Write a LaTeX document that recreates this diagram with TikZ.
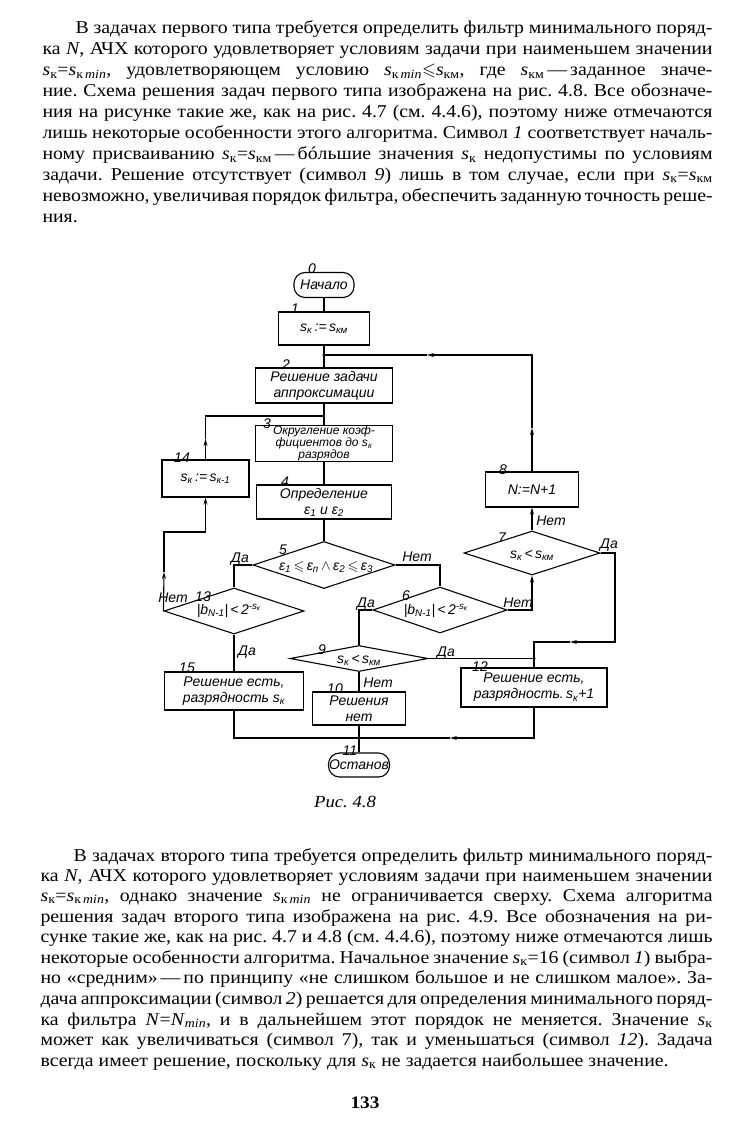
\documentclass[tikz,border=0pt]{standalone}
\usepackage{fontspec}
\usepackage{amsmath,amssymb}
\setmainfont[FakeStretch=1.1]{Liberation Serif}
\newfontfamily\gost{Liberation Sans}
\usetikzlibrary{arrows.meta,shapes.geometric}
\newcommand{\Sk}{\textit{s}\textsubscript{к}}
\newcommand{\Skmin}{\textit{s}\textsubscript{к\,\textit{min}}}
\newcommand{\Skm}{\textit{s}\textsubscript{км}}
\newcommand{\fsub}[1]{s\textsubscript{#1}}
\frenchspacing
\begin{document}
\begin{tikzpicture}[x=1pt,y=-1pt,line width=1.1pt]
\tikzset{
  body/.style={anchor=base west, inner sep=0pt, font=\fontsize{18}{21}\selectfont},
  fc/.style={font=\gost\itshape\fontsize{14}{16}\selectfont},
  blk/.style={draw, rectangle, inner sep=0pt, align=center, fc},
  term/.style={draw, rectangle, rounded corners=11pt, inner sep=0pt, fc},
  dia/.style={draw, diamond, inner sep=0pt},
  num/.style={fc, inner sep=0pt, anchor=base},
  yn/.style={fc, inner sep=0pt, anchor=base},
  endtip/.style={-{Stealth[length=7pt,width=4pt]}},
  dot/.style={fill=black}
}
\fill[white] (0,0) rectangle (730,1134);
\useasboundingbox (0,0) rectangle (730,1134);

% ---------- first paragraph ----------
\node[body] (p1) at (75,34) {\makebox[637pt][s]{В задачах первого типа требуется определить фильтр минимального поряд-}};
\node[body] (p2) at (42,55) {\makebox[670pt][s]{ка \textit{N}, АЧХ которого удовлетворяет условиям задачи при наименьшем значении}};
\node[body] (p3) at (42,76) {\makebox[670pt][s]{\Sk=\Skmin, удовлетворяющем условию \Skmin$\leqslant$\Skm, где \Skm\,—\,заданное значе-}};
\node[body] (p4) at (42,97) {\makebox[670pt][s]{ние. Схема решения задач первого типа изображена на рис. 4.8. Все обозначе-}};
\node[body] (p5) at (42,117.5) {\makebox[670pt][s]{ния на рисунке такие же, как на рис. 4.7 (см. 4.4.6), поэтому ниже отмечаются}};
\node[body] (p6) at (42,138.5) {\makebox[670pt][s]{лишь некоторые особенности этого алгоритма. Символ \textit{1} соответствует началь-}};
\node[body] (p7) at (42,159.5) {\makebox[670pt][s]{ному присваиванию \Sk=\Skm\,—\,бóльшие значения \Sk\ недопустимы по условиям}};
\node[body] (p8) at (42,180) {\makebox[670pt][s]{задачи. Решение отсутствует (символ \textit{9}) лишь в том случае, если при \Sk=\Skm}};
\node[body] (p9) at (42,201) {\makebox[670pt][s]{невозможно, увеличивая порядок фильтра, обеспечить заданную точность реше-}};
\node[body] (p10) at (42,222) {ния.};

% ---------- flowchart ----------
\node[term, minimum width=60pt, minimum height=25pt] (n0) at (324,285) {Начало};
\node[blk, minimum width=91pt, minimum height=33pt] (n1) at (324,328.5) {\fsub{к}\,:=\,\fsub{км}};
\node[blk, minimum width=137pt, minimum height=35pt] (n2) at (324,385.5) {Решение задачи\\аппроксимации};
\node[blk, minimum width=137pt, minimum height=33pt, font=\gost\itshape\fontsize{12}{11}\selectfont] (n3) at (324,443.5) {Округление коэф-\\фициентов до \fsub{к}\\разрядов};
\node[blk, minimum width=135pt, minimum height=34pt] (n4) at (324,502) {Определение\\ε\textsubscript{1} и ε\textsubscript{2}};
\node[dia, minimum width=142pt, minimum height=47pt] (d5) at (324,565) {};
\node[fc, inner sep=0pt] (t5) at (326,567) {ε\textsubscript{1}$\,\leqslant\,$ε\textsubscript{п}\,$\wedge$\,ε\textsubscript{2}$\,\leqslant\,$ε\textsubscript{3}};
\node[dia, minimum width=140pt, minimum height=46pt] (d13) at (234,611) {};
\node[fc, inner sep=0pt] (t13) at (229,611) {|b\textsubscript{N-1}|\,<\,2\textsuperscript{-s\textsubscript{к}}};
\node[blk, minimum width=87pt, minimum height=37pt] (n14) at (205.5,478.5) {\fsub{к}\,:=\,\fsub{к-1}};
\node[blk, minimum width=139pt, minimum height=38pt] (n15) at (234,691) {Решение есть,\\разрядность \fsub{к}};
\node[dia, minimum width=134pt, minimum height=46pt] (d6) at (440,610) {};
\node[fc, inner sep=0pt] (t6) at (436,611) {|b\textsubscript{N-1}|\,<\,2\textsuperscript{-s\textsubscript{к}}};
\node[dia, minimum width=136pt, minimum height=44pt] (d7) at (532,553) {};
\node[fc, inner sep=0pt] (t7) at (532,555) {\fsub{к}\,<\,\fsub{км}};
\node[blk, minimum width=93pt, minimum height=35pt] (n8) at (532,489.5) {N:=N+1};
\node[dia, minimum width=138pt, minimum height=26pt] (d9) at (359,658.5) {};
\node[fc, inner sep=0pt] (t9) at (359,660) {\fsub{к}\,<\,\fsub{км}};
\node[blk, minimum width=93pt, minimum height=33pt] (n10) at (359,708.5) {Решения\\нет};
\node[blk, minimum width=146pt, minimum height=39pt] (n12) at (534,687.5) {Решение есть,\\разрядность.\,\fsub{к}+1};
\node[term, minimum width=61pt, minimum height=24pt] (n11) at (359,765) {Останов};

% symbol numbers
\node[num] (m0) at (312,273) {0};
\node[num] (m1) at (295,313) {1};
\node[num] (m2) at (286,369) {2};
\node[num] (m3) at (267,428) {3};
\node[num] (m4) at (285,486) {4};
\node[num] (m5) at (283,554) {5};
\node[num] (m6) at (406,600) {6};
\node[num] (m7) at (502,542) {7};
\node[num] (m8) at (503,474) {8};
\node[num] (m9) at (322,654) {9};
\node[num] (m10) at (335,693) {10};
\node[num] (m11) at (350,755) {11};
\node[num] (m12) at (480,671) {12};
\node[num] (m13) at (203,601) {13};
\node[num] (m14) at (182,462) {14};
\node[num] (m15) at (187,672) {15};

% yes / no labels
\node[yn] (y5) at (240,562) {Да};
\node[yn] (no5) at (417,561) {Нет};
\node[yn] (no13) at (173,602) {Нет};
\node[yn] (y13) at (247,655) {Да};
\node[yn] (y6) at (366,607) {Да};
\node[yn] (no6) at (518,607) {Нет};
\node[yn] (y9) at (446,656) {Да};
\node[yn] (no9) at (378,687) {Нет};
\node[yn] (no7) at (551,525) {Нет};
\node[yn] (y7) at (609,548) {Да};

% junctions, bends and arrow points
\coordinate (j1) at (324,355);
\coordinate (j0) at (324,416);
\coordinate (j2) at (534,658.5);
\coordinate (j3) at (359,738);
\coordinate (k13) at (164,532);
\coordinate (a13) at (164,572);
\coordinate (a14) at (205.5,439);
\coordinate (a8a) at (532,428);
\coordinate (a8b) at (427,355);
\coordinate (r7) at (615,642);
\coordinate (a7) at (570,642);
\coordinate (a12) at (450,738);

% connectors
\draw (n0.south) -- (n1.north);
\draw (n1.south) -- (j1) -- (n2.north);
\draw (n2.south) -- (j0) -- (n3.north);
\draw (n3.south) -- (n4.north);
\draw (n4.south) -- (d5.north);
\draw (d5.west) -| (d13.north);
\draw (d5.east) -| (d6.north);
\draw (d13.south) -- (n15.north);
\draw[endtip] (d13.west) -- (a13);
\draw[endtip] (a13) -- (k13) -| (n14.south);
\draw[endtip] (n14.north) -- (a14);
\draw (a14) |- (j0);
\draw (d6.west) -| (d9.north);
\draw[endtip] (d6.east) -| (d7.south);
\draw[endtip] (d7.north) -- (n8.south);
\draw[endtip] (n8.north) -- (a8a);
\draw[endtip] (a8a) |- (a8b);
\draw (a8b) -- (j1);
\draw[endtip] (d7.east) -| (r7) -- (a7);
\draw (a7) -| (j2);
\draw (d9.east) -- (j2) -- (n12.north);
\draw (d9.south) -- (n10.north);
\draw (n10.south) -- (j3);
\draw (n15.south) |- (j3);
\draw[endtip] (n12.south) |- (a12);
\draw (a12) -- (j3);
\draw (j3) -- (n11.north);
\fill[dot] (j1) circle (1.6pt);
\fill[dot] (j2) circle (1.6pt);
\fill[dot] (j3) circle (1.6pt);

\node[anchor=base, inner sep=0pt, font=\itshape\fontsize{17}{20}\selectfont] (cap) at (345,807) {Рис. 4.8};

% ---------- second paragraph ----------
\node[body] (q1) at (73,861) {\makebox[639pt][s]{В задачах второго типа требуется определить фильтр минимального поряд-}};
\node[body] (q2) at (40,881) {\makebox[672pt][s]{ка \textit{N}, АЧХ которого удовлетворяет условиям задачи при наименьшем значении}};
\node[body] (q3) at (40,901) {\makebox[672pt][s]{\Sk=\Skmin, однако значение \Skmin\ не ограничивается сверху. Схема алгоритма}};
\node[body] (q4) at (40,922) {\makebox[672pt][s]{решения задач второго типа изображена на рис. 4.9. Все обозначения на ри-}};
\node[body] (q5) at (40,942) {\makebox[672pt][s]{сунке такие же, как на рис. 4.7 и 4.8 (см. 4.4.6), поэтому ниже отмечаются лишь}};
\node[body] (q6) at (40,963) {\makebox[672pt][s]{некоторые особенности алгоритма. Начальное значение \Sk=16 (символ \textit{1}) выбра-}};
\node[body] (q7) at (40,983) {\makebox[672pt][s]{но «средним»\,—\,по принципу «не слишком большое и не слишком малое». За-}};
\node[body] (q8) at (40,1004) {\makebox[672pt][s]{дача аппроксимации (символ \textit{2}) решается для определения минимального поряд-}};
\node[body] (q9) at (40,1025) {\makebox[672pt][s]{ка фильтра \textit{N}=\textit{N}\textsubscript{\textit{min}}, и в дальнейшем этот порядок не меняется. Значение \Sk}};
\node[body] (q10) at (40,1045) {\makebox[672pt][s]{может как увеличиваться (символ 7), так и уменьшаться (символ \textit{12}). Задача}};
\node[body] (q11) at (40,1066) {\makebox[628pt][s]{всегда имеет решение, поскольку для \Sk\ не задается наибольшее значение.}};

\node[anchor=base, inner sep=0pt, font=\bfseries\fontsize{17.5}{21}\selectfont] (pg) at (365,1108) {133};
\end{tikzpicture}
\end{document}
